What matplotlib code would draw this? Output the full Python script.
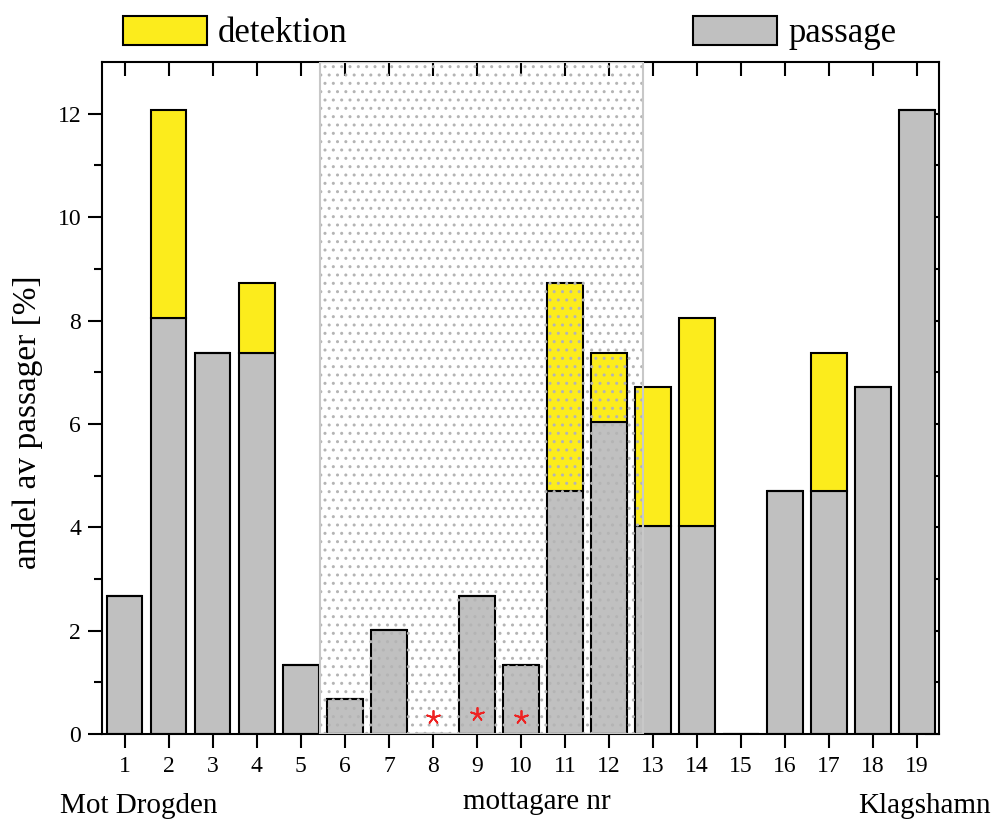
import matplotlib
matplotlib.use('Agg')
import matplotlib.pyplot as plt
from matplotlib.patches import Rectangle, Patch
import numpy as np

# --- data (percent of passages per receiver) ---
receivers = list(range(1, 20))
passage = [2.68, 8.05, 7.38, 7.38, 1.34, 0.67, 2.01, 0.0, 2.68, 1.34,
           4.70, 6.04, 4.03, 4.03, 0.0, 4.70, 4.70, 6.71, 12.08]
detektion = [2.68, 12.08, 7.38, 8.72, 1.34, 0.67, 2.01, 0.0, 2.68, 1.34,
             8.72, 7.38, 6.71, 8.05, 0.0, 4.70, 7.38, 6.71, 12.08]
star_receivers = [8, 9, 10]
star_y = [0.33, 0.38, 0.33]
shaded_span = (5.43, 12.77)

plt.rcParams['font.family'] = ['Liberation Serif', 'DejaVu Serif']
plt.rcParams['hatch.linewidth'] = 1.0

GRAY = '#c0c0c0'
YELLOW = '#fcec1c'

fig = plt.figure(figsize=(9.98, 8.23), dpi=100)
ax = fig.add_axes([0.1022, 0.1081, 0.8387, 0.8165])

x = np.array(receivers)
extra = np.array(detektion) - np.array(passage)
ax.bar(x, passage, width=0.8, color=GRAY, edgecolor='black', linewidth=1.5, zorder=2)
ax.bar(x, extra, bottom=passage, width=0.8, color=YELLOW, edgecolor='black',
       linewidth=1.5, zorder=2)

# dotted overlay region (pattern + light border)
ax.add_patch(Rectangle((shaded_span[0], 0), shaded_span[1] - shaded_span[0], 13,
                       facecolor='none', edgecolor='#b4b4b4', hatch='..',
                       linewidth=0, zorder=3))
ax.add_patch(Rectangle((shaded_span[0], 0), shaded_span[1] - shaded_span[0], 13,
                       facecolor='none', edgecolor='#c8c8c8', linewidth=1.5, zorder=3))

ax.scatter(star_receivers, star_y, marker=(5, 2, 0), s=90, color='#ee2222',
           linewidths=1.3, zorder=4)

ax.set_xlim(0.48, 19.5)
ax.set_ylim(0, 13)
ax.set_xticks(receivers)
ax.set_yticks(range(0, 13, 2))
ax.set_yticks(range(1, 13, 2), minor=True)
ax.tick_params(axis='both', which='major', labelsize=17, width=1.5, length=10)
ax.tick_params(axis='y', which='minor', width=1.5, length=6)
ax.tick_params(axis='x', direction='out', top=True, pad=6)
ax.tick_params(axis='y', which='both', direction='out', right=True, pad=5)
for t in ax.xaxis.get_major_ticks():
    t.tick2line.set_marker(3)  # inward at top
for t in ax.yaxis.get_major_ticks() + ax.yaxis.get_minor_ticks():
    t.tick2line.set_marker(0)  # inward at right
for s in ax.spines.values():
    s.set_linewidth(1.5)

fig.text(0.028, 0.487, 'andel av passager [%]', fontsize=24, rotation=90,
         ha='center', va='center')

fig.text(0.06, 0.005, 'Mot Drogden', fontsize=21, ha='left', va='bottom')
fig.text(0.538, 0.01, 'mottagare nr', fontsize=21, ha='center', va='bottom')
fig.text(0.86, 0.005, 'Klagshamn', fontsize=21, ha='left', va='bottom')

h1 = Patch(facecolor=YELLOW, edgecolor='black', linewidth=1.5)
h2 = Patch(facecolor=GRAY, edgecolor='black', linewidth=1.5)
leg_kw = dict(frameon=False, fontsize=25, handlelength=2.42, handleheight=0.9,
              handletextpad=0.32, borderaxespad=0, borderpad=0)
fig.legend([h1], ['detektion'], loc='center left',
           bbox_to_anchor=(123 / 998, 1 - 33 / 823), **leg_kw)
fig.legend([h2], ['passage'], loc='center left',
           bbox_to_anchor=(693 / 998, 1 - 33 / 823), **leg_kw)

fig.savefig('out.png', dpi=100)
